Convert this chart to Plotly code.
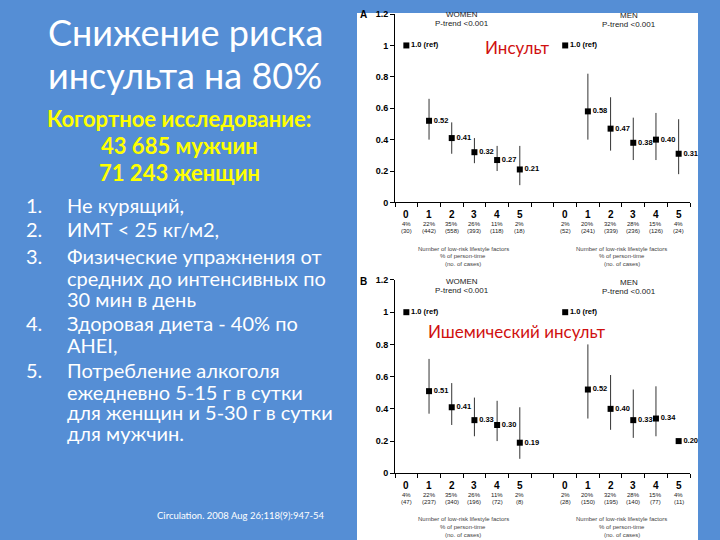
import plotly.graph_objects as go

W, H = 720, 540
OFF = 8  # default page margin of the browser; all pixel positions below are page pixels
def px(x): return (x - OFF) / W
def py(y): return 1 - (y - OFF) / H

# ---------------- data ----------------
factor_labels = ["0", "1", "2", "3", "4", "5"]
women_pos = [0, 1, 2, 3, 4, 5]
men_pos = [7, 8, 9, 10, 11, 12]

pct_women = ["4%", "22%", "35%", "26%", "11%", "2%"]
pct_men = ["2%", "20%", "32%", "28%", "15%", "4%"]

# Panel A: total stroke
stroke_women_rr = [1.0, 0.52, 0.41, 0.32, 0.27, 0.21]
stroke_women_lo = [1.0, 0.40, 0.31, 0.25, 0.20, 0.11]
stroke_women_hi = [1.0, 0.66, 0.51, 0.41, 0.36, 0.36]
stroke_men_rr = [1.0, 0.58, 0.47, 0.38, 0.40, 0.31]
stroke_men_lo = [1.0, 0.40, 0.33, 0.27, 0.27, 0.18]
stroke_men_hi = [1.0, 0.82, 0.67, 0.54, 0.57, 0.53]
stroke_women_cases = ["(30)", "(442)", "(558)", "(393)", "(118)", "(18)"]
stroke_men_cases = ["(52)", "(241)", "(339)", "(236)", "(126)", "(24)"]

# Panel B: ischemic stroke
isch_women_rr = [1.0, 0.51, 0.41, 0.33, 0.30, 0.19]
isch_women_lo = [1.0, 0.37, 0.30, 0.23, 0.20, 0.09]
isch_women_hi = [1.0, 0.71, 0.56, 0.47, 0.45, 0.41]
isch_men_rr = [1.0, 0.52, 0.40, 0.33, 0.34, 0.20]
isch_men_lo = [1.0, 0.34, 0.27, 0.22, 0.23, 0.20]
isch_men_hi = [1.0, 0.80, 0.61, 0.52, 0.54, 0.20]
isch_women_cases = ["(47)", "(237)", "(340)", "(196)", "(72)", "(8)"]
isch_men_cases = ["(28)", "(150)", "(195)", "(140)", "(77)", "(11)"]

y_ticks = [0, 0.2, 0.4, 0.6, 0.8, 1.0, 1.2]
y_ticktext = ["0", "0.2", "0.4", "0.6", "0.8", "1", "1.2"]

axis_title_lines = ["Number of low-risk lifestyle factors", "% of person-time", "(no. of cases)"]

# ---------------- figure ----------------
BLUE = "#558ed5"
AR = "Liberation Sans, Arial, sans-serif"
LATO = "Lato, Carlito, Calibri, sans-serif"

fig = go.Figure()

def fmt(v, ref):
    return "1.0 (ref)" if ref else f"{v:.2f}"

def add_group(rr, lo, hi, pos, xa, ya):
    plus = [h - r for h, r in zip(hi, rr)]
    minus = [r - l for r, l in zip(rr, lo)]
    fig.add_trace(go.Scatter(
        x=pos, y=rr, mode="markers+text", xaxis=xa, yaxis=ya,
        marker=dict(symbol="square", size=6, color="black"),
        text=[fmt(v, i == 0) for i, v in enumerate(rr)],
        textposition="middle right",
        textfont=dict(family=AR, size=7.5, color="black", weight="bold"),
        error_y=dict(type="data", array=plus, arrayminus=minus, symmetric=False,
                     color="#333333", thickness=1, width=0),
        showlegend=False, hoverinfo="skip", cliponaxis=False))

add_group(stroke_women_rr, stroke_women_lo, stroke_women_hi, women_pos, "x", "y")
add_group(stroke_men_rr, stroke_men_lo, stroke_men_hi, men_pos, "x", "y")
add_group(isch_women_rr, isch_women_lo, isch_women_hi, women_pos, "x2", "y2")
add_group(isch_men_rr, isch_men_lo, isch_men_hi, men_pos, "x2", "y2")

xdom = [px(395), px(690)]
xcommon = dict(range=[-0.5, 12.5], tickvals=[i - 0.5 for i in range(14)],
               showticklabels=False, ticks="outside", ticklen=4, tickcolor="black",
               showline=True, linecolor="black", linewidth=1, showgrid=False,
               zeroline=False, fixedrange=True, domain=xdom)
ycommon = dict(range=[0, 1.2], tickvals=y_ticks, ticktext=y_ticktext,
               ticks="outside", ticklen=4, tickcolor="black",
               tickfont=dict(family=AR, size=9, color="black", weight="bold"),
               showline=True, linecolor="black", linewidth=1, showgrid=False,
               zeroline=False, fixedrange=True)

fig.update_layout(
    width=W, height=H, margin=dict(l=0, r=0, t=0, b=0),
    paper_bgcolor=BLUE, plot_bgcolor="white", hovermode=False,
    xaxis=dict(**xcommon, anchor="y"),
    yaxis=dict(**ycommon, domain=[py(201), 0.998], anchor="x"),
    xaxis2=dict(**xcommon, anchor="y2"),
    yaxis2=dict(**ycommon, domain=[py(477), py(280)], anchor="x2"),
)

# white picture area
fig.add_shape(type="rect", xref="paper", yref="paper", x0=px(357), x1=px(698),
              y0=0, y1=1, fillcolor="white", line=dict(width=0), layer="below")

ann = []
def A(**kw):
    kw.setdefault("xanchor", "center")
    kw.setdefault("yanchor", "middle")
    kw.setdefault("showarrow", False)
    ann.append(kw)

# chart annotations
panels = [
    dict(xr="x", top=4, base=201, label="A", title="Инсульт", title_y=43,
         wc=stroke_women_cases, mc=stroke_men_cases),
    dict(xr="x2", top=276, base=477, label="B", title="Ишемический инсульт", title_y=333,
         wc=isch_women_cases, mc=isch_men_cases),
]
for p in panels:
    t = p["top"]; b = p["base"]
    A(x=px(358), y=py(t + 6), xref="paper", yref="paper", text="<b>" + p["label"] + "</b>",
      xanchor="left", font=dict(family=AR, size=10, color="black"))
    A(x=px(462), y=py(t + 6), xref="paper", yref="paper", text="WOMEN",
      font=dict(family=AR, size=8, color="#222"))
    A(x=px(462), y=py(t + 15), xref="paper", yref="paper", text="P-trend &lt;0.001",
      font=dict(family=AR, size=8, color="#222"))
    A(x=px(629), y=py(t + 7), xref="paper", yref="paper", text="MEN",
      font=dict(family=AR, size=8, color="#222"))
    A(x=px(629), y=py(t + 16), xref="paper", yref="paper", text="P-trend &lt;0.001",
      font=dict(family=AR, size=8, color="#222"))
    A(x=px(517), y=py(p["title_y"]), xref="paper", yref="paper", text=p["title"],
      font=dict(family=LATO, size=17, color="#d01010"))
    for pos_list, pcts, cases in [(women_pos, pct_women, p["wc"]), (men_pos, pct_men, p["mc"])]:
        for xv, lab, pc, cs in zip(pos_list, factor_labels, pcts, cases):
            A(x=xv, y=py(b + 12), xref=p["xr"], yref="paper", text="<b>" + lab + "</b>",
              font=dict(family=AR, size=10, color="black"))
            A(x=xv, y=py(b + 22), xref=p["xr"], yref="paper", text=pc,
              font=dict(family=AR, size=6, color="#222"))
            A(x=xv, y=py(b + 29), xref=p["xr"], yref="paper", text=cs,
              font=dict(family=AR, size=6, color="#222"))
    for cx in (2.5, 9.5):
        for k, line in enumerate(axis_title_lines):
            A(x=cx, y=py(b + 47 + 8 * k), xref=p["xr"], yref="paper", text=line,
              font=dict(family=AR, size=6, color="#444"))

# slide text
A(x=px(185), y=py(27), xref="paper", yref="paper", text="Снижение риска",
  font=dict(family=LATO, size=36, color="white"))
A(x=px(185), y=py(71), xref="paper", yref="paper", text="инсульта на 80%",
  font=dict(family=LATO, size=36, color="white"))
for yy, t in [(116, "Когортное исследование:"), (143, "43 685 мужчин"), (171, "71 243 женщин")]:
    A(x=px(179), y=py(yy), xref="paper", yref="paper", text="<b>" + t + "</b>",
      font=dict(family=LATO, size=22, color="#ffff00"))

list_lines = [
    ("1.", "Не курящий,", 204),
    ("2.", "ИМТ < 25 кг/м2,", 228),
    ("3.", "Физические упражнения от", 256),
    ("", "средних до интенсивных по", 278),
    ("", "30 мин в день", 299),
    ("4.", "Здоровая диета - 40% по", 324),
    ("", "AHEI,", 346),
    ("5.", "Потребление алкоголя", 372),
    ("", "ежедневно 5-15 г в сутки", 394),
    ("", "для женщин и 5-30 г в сутки", 415),
    ("", "для мужчин.", 436),
]
for num, t, yy in list_lines:
    if num:
        A(x=px(24), y=py(yy), xref="paper", yref="paper", text=num, xanchor="left",
          font=dict(family=LATO, size=20, color="white"))
    A(x=px(65), y=py(yy), xref="paper", yref="paper", text=t.replace("<", "&lt;"),
      xanchor="left", font=dict(family=LATO, size=20, color="white"))

A(x=px(241), y=py(520), xref="paper", yref="paper",
  text="Circulation. 2008 Aug 26;118(9):947-54",
  font=dict(family=LATO, size=9.5, color="white"))

fig.update_layout(annotations=ann)
fig.write_html("out.html", config=dict(displayModeBar=False, staticPlot=True),
               post_script="document.body.style.background='#558ed5';")
